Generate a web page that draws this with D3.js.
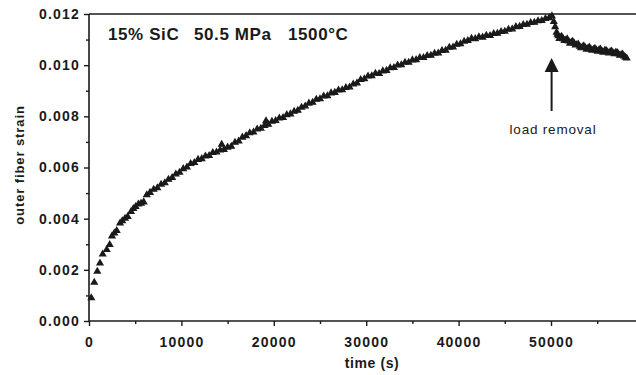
<!DOCTYPE html>
<html>
<head>
<meta charset="utf-8">
<script src="https://cdn.jsdelivr.net/npm/d3@7"></script>
<style>
  body { margin: 0; background: #fff; }
  svg { display: block; font-family: "Liberation Sans", Arial, Helvetica, sans-serif; }
</style>
</head>
<body>
<div id="chart"></div>
<script>
// creep data: time (s) and outer fiber strain
var times = [
    250, 570, 900, 1190, 1480, 1920, 2240, 2490, 2740, 3000,
    3360, 3600, 3900, 4190, 4550, 4800, 5050, 5340, 5630, 5920, 6250,
    6600, 7000, 7400, 7800, 8200, 8600, 9000, 9400, 9800, 10200,
    10600, 11000, 11400, 11800, 12200, 12600, 13000, 13400, 13800, 14200,
    14360, 14600, 15000, 15400, 15800, 16200, 16600, 17000, 17400, 17800,
    18200, 18600, 19000, 19160, 19400, 19800, 20200, 20600, 21000, 21400,
    21800, 22200, 22600, 23000, 23400, 23800, 24200, 24600, 25000, 25400,
    25800, 26200, 26600, 27000, 27400, 27800, 28200, 28600, 29000, 29400,
    29800, 30200, 30600, 31000, 31400, 31800, 32200, 32600, 33000, 33400,
    33800, 34200, 34600, 35000, 35400, 35800, 36200, 36600, 37000, 37400,
    37800, 38200, 38600, 39000, 39400, 39800, 40200, 40600, 41000, 41400,
    41800, 42200, 42600, 43000, 43400, 43800, 44200, 44600, 45000, 45400,
    45800, 46200, 46600, 47000, 47400, 47800, 48200, 48600, 49000, 49400,
    49800, 50100,
    50300, 50450, 50600, 50800, 51000, 51300, 51600, 51900, 52200, 52500,
    52800, 53100, 53400, 53700, 54000, 54300, 54600, 54900, 55200, 55500,
    55800, 56100, 56400, 56700, 57000, 57300, 57600, 57900, 58200,
    50700, 50900, 51150, 51450, 51750, 52050, 52350, 52650, 52950, 53250,
    53550, 53850, 54150, 54450, 54750, 55050, 55350, 55650, 55950, 56250,
    56550, 56850, 57150, 57450, 57750, 58050
]
var strain = [
    0.00090, 0.00151, 0.00194, 0.00226, 0.00261, 0.00279, 0.00298, 0.00332, 0.00343, 0.00353,
    0.00382, 0.00391, 0.00401, 0.00408, 0.00427, 0.00439, 0.00447, 0.00457, 0.00460, 0.00465, 0.00493,
    0.00502, 0.00514, 0.00520, 0.00534, 0.00540, 0.00553, 0.00560, 0.00574, 0.00581, 0.00595,
    0.00601, 0.00615, 0.00619, 0.00631, 0.00634, 0.00644, 0.00646, 0.00658, 0.00660, 0.00668,
    0.00690, 0.00670, 0.00679, 0.00682, 0.00698, 0.00703, 0.00718, 0.00724, 0.00735, 0.00738,
    0.00750, 0.00753, 0.00764, 0.00782, 0.00768, 0.00780, 0.00783, 0.00793, 0.00795, 0.00806,
    0.00809, 0.00819, 0.00823, 0.00835, 0.00840, 0.00851, 0.00854, 0.00866, 0.00868, 0.00879,
    0.00880, 0.00891, 0.00893, 0.00902, 0.00903, 0.00912, 0.00914, 0.00926, 0.00930, 0.00943,
    0.00946, 0.00957, 0.00958, 0.00968, 0.00967, 0.00977, 0.00979, 0.00989, 0.00990, 0.01000,
    0.01001, 0.01011, 0.01011, 0.01020, 0.01021, 0.01029, 0.01029, 0.01037, 0.01038, 0.01046,
    0.01047, 0.01057, 0.01058, 0.01069, 0.01070, 0.01081, 0.01083, 0.01093, 0.01096, 0.01104,
    0.01103, 0.01110, 0.01109, 0.01116, 0.01115, 0.01123, 0.01124, 0.01131, 0.01132, 0.01140,
    0.01141, 0.01150, 0.01151, 0.01158, 0.01159, 0.01166, 0.01167, 0.01173, 0.01174, 0.01182,
    0.01185, 0.01192,
    0.01170, 0.01150, 0.01128, 0.01114, 0.01108, 0.01103, 0.01098, 0.01094, 0.01090, 0.01086,
    0.01080, 0.01073, 0.01071, 0.01068, 0.01066, 0.01063, 0.01061, 0.01059, 0.01060, 0.01055,
    0.01057, 0.01052, 0.01053, 0.01049, 0.01050, 0.01044, 0.01041, 0.01035, 0.01027,
    0.01120, 0.01104, 0.01112, 0.01096, 0.01102, 0.01085, 0.01093, 0.01078, 0.01082, 0.01067,
    0.01075, 0.01062, 0.01070, 0.01058, 0.01065, 0.01054, 0.01062, 0.01050, 0.01058, 0.01047,
    0.01055, 0.01044, 0.01050, 0.01038, 0.01043, 0.01030
]

var yTicks = [0, 0.002, 0.004, 0.006, 0.008, 0.010, 0.012]
var yMinor = [0.001, 0.003, 0.005, 0.007, 0.009, 0.011]
var xTicks = [0, 10000, 20000, 30000, 40000, 50000]
var xMinor = [5000, 15000, 25000, 35000, 45000, 55000]

var titleParts = ['15% SiC', '50.5 MPa', '1500\u00B0C']
var annotation = { time: 50000, text: 'load removal' }

var width = 636, height = 375
var plotLeft = 89, plotTop = 14, plotBottom = 321

var svg = d3.select('#chart')
    .append('svg')
    .attr('width', width)
    .attr('height', height)

var x = d3.scaleLinear().domain([0, 60000]).range([plotLeft, plotLeft + 554.4])
var y = d3.scaleLinear().domain([0, 0.012]).range([plotBottom, plotTop])

var ink = '#1a1a1a'

// ticks (major + minor) for both axes
svg.append('g')
    .attr('transform', 'translate(' + plotLeft + ',0)')
    .call(d3.axisLeft(y).tickValues(yTicks).tickSize(5).tickPadding(4).tickFormat(d3.format('.3f')))
svg.append('g')
    .attr('transform', 'translate(' + plotLeft + ',0)')
    .call(d3.axisLeft(y).tickValues(yMinor).tickSize(3).tickFormat(''))

svg.append('g')
    .attr('transform', 'translate(0,' + plotBottom + ')')
    .call(d3.axisBottom(x).tickValues(xTicks).tickSize(5).tickPadding(11).tickFormat(d3.format('d')))
svg.append('g')
    .attr('transform', 'translate(0,' + plotBottom + ')')
    .call(d3.axisBottom(x).tickValues(xMinor).tickSize(3).tickFormat(''))

svg.selectAll('.domain').remove()

// frame: top line, left axis, bottom axis (no right side in the picture)
svg.append('line')
    .attr('x1', plotLeft).attr('x2', width)
    .attr('y1', plotTop).attr('y2', plotTop)
    .attr('stroke', ink).attr('stroke-width', 1.4)
svg.append('line')
    .attr('x1', plotLeft).attr('x2', plotLeft)
    .attr('y1', plotTop).attr('y2', plotBottom)
    .attr('stroke', ink).attr('stroke-width', 1.6)
svg.append('line')
    .attr('x1', plotLeft).attr('x2', width)
    .attr('y1', plotBottom).attr('y2', plotBottom)
    .attr('stroke', ink).attr('stroke-width', 1.6)

svg.selectAll('.tick line').attr('stroke', ink).attr('stroke-width', 1.4)
svg.selectAll('.tick text')
    .attr('fill', ink)
    .style('font-size', '14px')
    .style('font-weight', 'bold')
    .style('letter-spacing', '1.2px')

// axis titles
svg.append('text')
    .attr('x', 372).attr('y', 368)
    .attr('text-anchor', 'middle')
    .attr('fill', ink)
    .style('font-size', '14px').style('font-weight', 'bold')
    .style('letter-spacing', '0.6px')
    .text('time (s)')

svg.append('text')
    .attr('transform', 'translate(24,165) rotate(-90)')
    .attr('text-anchor', 'middle')
    .attr('fill', ink)
    .style('font-size', '13px').style('font-weight', 'bold')
    .style('letter-spacing', '0.9px')
    .text('outer fiber strain')

// title inside the plot
var titleX = [108, 194, 288]
svg.selectAll('.ttl')
    .data(titleParts)
    .enter()
    .append('text')
    .attr('class', 'ttl')
    .attr('x', function(d, i) { return titleX[i] })
    .attr('y', 40)
    .attr('fill', ink)
    .style('font-size', '17px').style('font-weight', 'bold')
    .style('letter-spacing', '0.6px')
    .text(function(d) { return d })

// data points
var pts = times.map(function(t, i) { return { t: t, s: strain[i] } })
var tri = d3.symbol().type(d3.symbolTriangle).size(15)

svg.append('g')
    .selectAll('path')
    .data(pts)
    .enter()
    .append('path')
    .attr('d', tri)
    .attr('transform', function(d) { return 'translate(' + x(d.t) + ',' + y(d.s) + ')' })
    .attr('fill', ink)
    .attr('stroke', ink)
    .attr('stroke-width', 1.3)

// load removal arrow
var ax = x(annotation.time) + 0.6
svg.append('line')
    .attr('x1', ax).attr('x2', ax)
    .attr('y1', 68).attr('y2', 111)
    .attr('stroke', ink).attr('stroke-width', 2)
svg.append('path')
    .attr('d', 'M' + ax + ',58 L' + (ax - 7) + ',72 L' + (ax + 7) + ',72 Z')
    .attr('fill', ink)

svg.append('text')
    .attr('x', 553).attr('y', 134)
    .attr('text-anchor', 'middle')
    .attr('fill', ink)
    .style('font-size', '13.5px')
    .style('letter-spacing', '0.8px')
    .text(annotation.text)
</script>
</body>
</html>
